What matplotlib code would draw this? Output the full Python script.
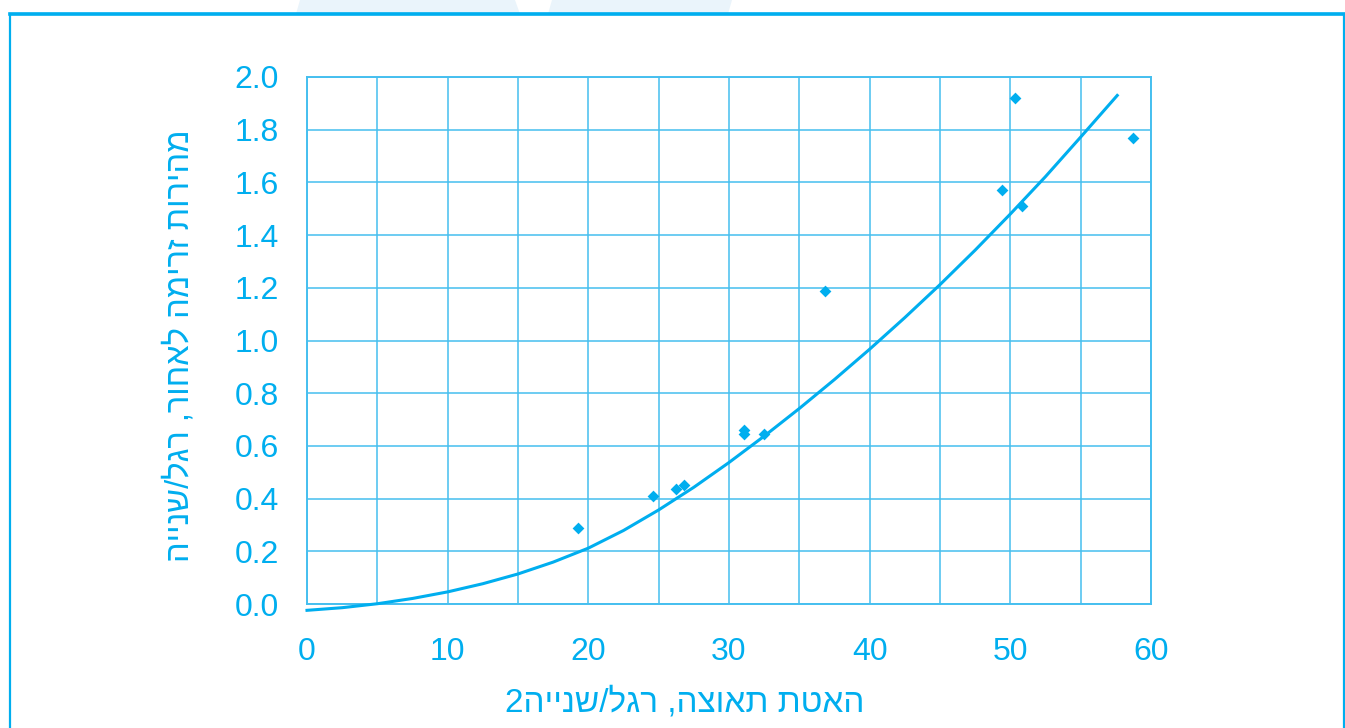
import matplotlib.pyplot as plt
from matplotlib.patches import Rectangle, Polygon
from matplotlib.lines import Line2D

plt.rcParams['font.family'] = ['Liberation Sans', 'DejaVu Sans']

BLUE = '#00AEEF'
GRID = '#45BFEF'

# measured points (diamonds)
pts_x = [19.3, 24.6, 26.2, 26.8, 31.1, 31.1, 32.5, 36.8, 49.4, 50.3, 50.8, 58.7]
pts_y = [0.29, 0.41, 0.435, 0.45, 0.66, 0.645, 0.645, 1.186, 1.57, 1.92, 1.51, 1.77]

# fitted curve
curve_x = [0, 2.5, 5, 7.5, 10, 12.5, 15, 17.5, 20, 22.5, 25, 27.5, 30,
           32.5, 35, 37.5, 40, 42.5, 45, 47.5, 50, 52.5, 55, 57.6]
curve_y = [-0.024, -0.014, 0.001, 0.021, 0.046, 0.077, 0.114, 0.159, 0.212,
           0.279, 0.357, 0.443, 0.537, 0.637, 0.742, 0.852, 0.967, 1.087,
           1.212, 1.343, 1.480, 1.622, 1.772, 1.93]

x_ticks = [0, 10, 20, 30, 40, 50, 60]
y_ticks = [0.0, 0.2, 0.4, 0.6, 0.8, 1.0, 1.2, 1.4, 1.6, 1.8, 2.0]

# Hebrew labels (matplotlib has no bidi, so reverse to visual order)
xlabel = 'האטת תאוצה, רגל/שנייה'
ylabel = 'מהירות זרימה לאחור, רגל/שנייה'

W, H = 1345, 728
fig = plt.figure(figsize=(W / 100, H / 100), dpi=100)

# faint background shapes above the frame
for poly in ([(300, 0), (515, 0), (520, 14), (296, 14)],
             [(552, 0), (732, 0), (728, 14), (548, 14)]):
    fig.patches.append(Polygon([(px / W, 1 - py / H) for px, py in poly],
                               closed=True, transform=fig.transFigure,
                               fc='#EAF4FB', ec='none', zorder=0))

# blue frame
fig.patches.append(Rectangle((10 / W, -0.05), (1344 - 10) / W, 1 - 14 / H + 0.05,
                             transform=fig.transFigure, fill=False,
                             ec=BLUE, lw=1.6, zorder=1))
fig.lines.append(Line2D([10 / W, 1344 / W], [1 - 14 / H, 1 - 14 / H],
                        transform=fig.transFigure, color=BLUE, lw=2.6))

ax = fig.add_axes([307 / W, 1 - 604 / H, (1151 - 307) / W, (604 - 77) / H])

ax.plot(curve_x, curve_y, color=BLUE, lw=2.2, clip_on=False, zorder=3,
        solid_joinstyle='round')
ax.scatter(pts_x, pts_y, marker='D', s=36, color=BLUE, lw=0, zorder=4,
           clip_on=False)

ax.set_xlim(0, 60)
ax.set_ylim(0, 2.0)
ax.set_xticks(x_ticks)
ax.set_xticks([5, 15, 25, 35, 45, 55], minor=True)
ax.set_yticks(y_ticks)
ax.set_yticklabels(['%.1f' % v for v in y_ticks])

ax.grid(True, which='both', color=GRID, lw=1.1)
ax.set_axisbelow(True)
for s in ax.spines.values():
    s.set_color(GRID)
    s.set_linewidth(1.4)

ax.tick_params(axis='both', which='both', length=0, colors=BLUE, labelsize=23)
ax.tick_params(axis='x', pad=24)
ax.tick_params(axis='y', pad=20)

fig.text(685 / W, 1 - 703 / H, '2' + xlabel[::-1], color=BLUE, fontsize=24,
         ha='center', va='center')
fig.text(180 / W, 1 - 346 / H, ylabel[::-1], color=BLUE, fontsize=23.5,
         ha='center', va='center', rotation=90)

fig.savefig('out.png', dpi=100)
